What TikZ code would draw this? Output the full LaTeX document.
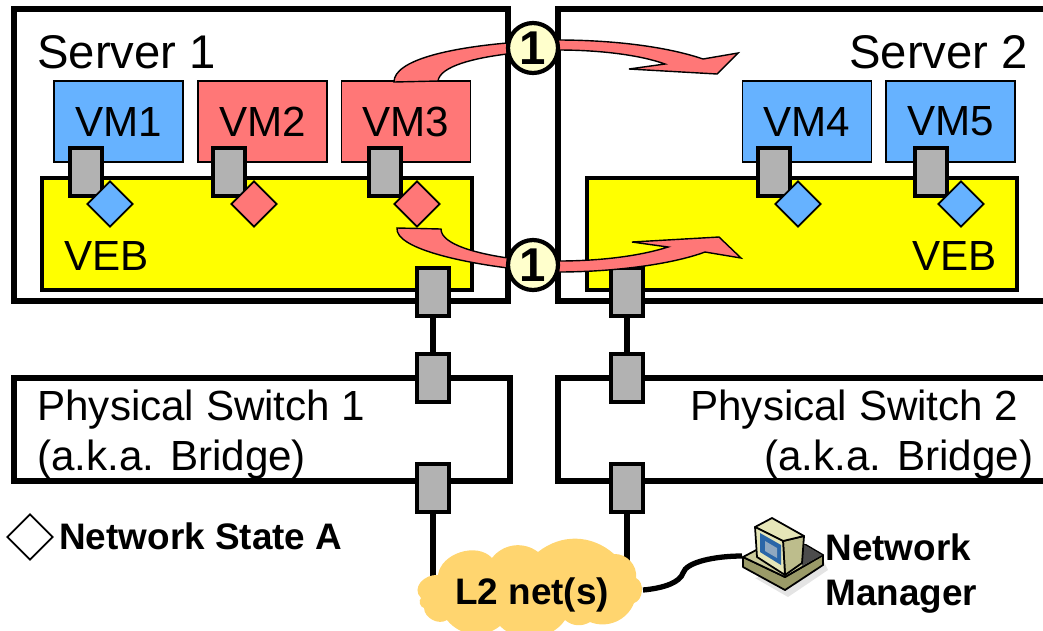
\documentclass[tikz,border=0pt]{standalone}
\usepackage{fontspec}
\setmainfont{Liberation Sans}
\usetikzlibrary{shapes.geometric}
\definecolor{vmblue}{HTML}{66B2FF}
\definecolor{vmred}{HTML}{FF7777}
\definecolor{vebyellow}{HTML}{FFFF00}
\definecolor{portgrey}{HTML}{B2B2B2}
\definecolor{cloudorange}{HTML}{FFD56F}
\definecolor{badgefill}{HTML}{FFFFCC}
\definecolor{pcfront}{HTML}{E6E6B8}
\definecolor{pcside}{HTML}{BDBD8C}
\definecolor{pcbase}{HTML}{CBCB9C}
\definecolor{pcedge}{HTML}{9A9A68}
\definecolor{pcscreen}{HTML}{2A66A8}
\definecolor{pcpicture}{HTML}{8FA8C0}
\definecolor{pcshadow}{HTML}{E4E4E4}
\tikzset{
  hostbox/.style={draw, line width=3.4pt},
  vebbox/.style={draw, line width=2.3pt, fill=vebyellow},
  vmbox/.style={draw, line width=1pt, minimum width=2.58cm, minimum height=1.62cm, font=\fontsize{24}{28}\selectfont, inner sep=0pt},
  portbox/.style={draw, line width=2.3pt, fill=portgrey, minimum width=0.64cm, minimum height=0.96cm, inner sep=0pt},
  statemark/.style={diamond, draw, line width=1pt, minimum width=0.92cm, minimum height=0.92cm, inner sep=0pt, aspect=1},
  badge/.style={circle, draw, line width=2.4pt, fill=badgefill, minimum size=1cm, inner sep=0pt, font=\fontsize{27}{30}\selectfont\bfseries},
  flow/.style={draw, line width=0.8pt, fill=vmred},
  wire/.style={line width=3pt},
  pcpart/.style={draw, line width=1pt, line join=round},
  bigtext/.style={anchor=base west, inner sep=0pt, font=\fontsize{26.9}{30}\selectfont},
  midtext/.style={anchor=base west, inner sep=0pt, font=\fontsize{24}{28}\selectfont},
  boldtext/.style={anchor=base west, inner sep=0pt, font=\fontsize{21}{24}\selectfont\bfseries}
}
\begin{document}
\begin{tikzpicture}[x=0.02cm,y=-0.02cm]
  \useasboundingbox (0,0) rectangle (1043,630);

  % Servers
  \draw[hostbox] (14,9) rectangle (508,301);
  \draw[hostbox] (558,9) rectangle (1060,301);
  \node[bigtext] (srv1) at (37,68) {Server 1};
  \node[bigtext] (srv2) at (849,68) {Server 2};

  % Bridges inside the servers
  \draw[vebbox] (42,178) rectangle (472,290);
  \draw[vebbox] (587,178) rectangle (1017,290);
  \node[midtext] (veb1) at (64,270) {VEB};
  \node[midtext] (veb2) at (912,270) {VEB};

  % Outside switches
  \draw[hostbox] (14,378) rectangle (510,481);
  \draw[hostbox] (558,378) rectangle (1060,481);
  \node[midtext] (sw1a) at (37,420) {Physical Switch 1};
  \node[midtext] (sw1b) at (37,470) {(a.k.a. Bridge)};
  \node[midtext] (sw2a) at (690,420) {Physical Switch 2};
  \node[midtext] (sw2b) at (764,470) {(a.k.a. Bridge)};

  % VMs
  \node[vmbox, fill=vmblue] (vm1) at (118.5,121.5) {VM1};
  \node[vmbox, fill=vmred] (vm2) at (262.5,121.5) {VM2};
  \node[vmbox, fill=vmred] (vm3) at (406,121.5) {VM3};
  \node[vmbox, fill=vmblue] (vm4) at (807,121.5) {VM4};
  \node[vmbox, fill=vmblue] (vm5) at (950.5,121.5) {VM5};

  % Uplink ports
  \node[portbox] (p6) at (433,292) {};
  \node[portbox] (p7) at (433,378) {};
  \node[portbox] (p8) at (433,488) {};
  \node[portbox] (p9) at (627,292) {};
  \node[portbox] (p10) at (627,378) {};
  \node[portbox] (p11) at (627,488) {};

  % Uplinks
  \coordinate (netl) at (433,585);
  \coordinate (netr) at (627,575);
  \draw[wire] (p6) -- (p7);
  \draw[wire] (p8) -- (netl);
  \draw[wire] (p9) -- (p10);
  \draw[wire] (p11) -- (netr);

  % Cloud
  \fill[cloudorange] (421,598) .. controls (411,588) and (424,574) .. (438,575)
    to[bend left=65] (492,558)
    to[bend left=45] (538,552) to[bend left=40] (614,554) to[bend left=50] (636,578)
    to[bend left=70] (634,603) to[bend left=45] (590,622) to[bend left=35] (565,620)
    to[bend left=50] (500,626) to[bend left=45] (447,620) to[bend left=60] (424,608)
    to[bend left=60] (421,598) -- cycle;
  \node[boldtext] (l2net) at (455,604) {L2 net(s)};

  % Ports
  \node[portbox] (p1) at (86,172) {};
  \node[portbox] (p2) at (229,172) {};
  \node[portbox] (p3) at (385,172) {};
  \node[portbox] (p4) at (774,172) {};
  \node[portbox] (p5) at (931,172) {};

  % State marks
  \node[statemark, fill=vmblue] (d1) at (110,204) {};
  \node[statemark, fill=vmred] (d2) at (254,204) {};
  \node[statemark, fill=vmred] (d3) at (417,204) {};
  \node[statemark, fill=vmblue] (d4) at (798,204) {};
  \node[statemark, fill=vmblue] (d5) at (961,204) {};
  \node[statemark, fill=white] (d6) at (30,537) {};
  \node[boldtext] (lgd) at (59,549) {Network State A};

  % Migration flows
  \draw[flow] (394,82) .. controls (394,60) and (450,48) .. (507,43) -- (507,54)
    .. controls (475,58) and (440,66) .. (438,81) -- cycle;
  \draw[flow] (558,40) .. controls (610,40) and (665,46) .. (703,59) -- (738,53) -- (717,74) -- (629,69) -- (665,64)
    .. controls (640,55) and (600,50) .. (558,50) -- cycle;
  \draw[flow] (397,228) -- (441,229) .. controls (441,245) and (480,254) .. (508,258) -- (508,268)
    .. controls (460,262) and (395,248) .. (397,228) -- cycle;
  \draw[flow] (558,261) .. controls (600,261) and (640,256) .. (668,247) -- (632,242) -- (719,237) -- (741,258) -- (705,252)
    .. controls (670,265) and (610,272) .. (558,272) -- cycle;
  \node[badge] (b1) at (533,48) {1};
  \node[badge] (b2) at (533,265) {1};

  % Manager
  \coordinate (pc) at (742,556);
  \coordinate (cl) at (643,590);
  \draw[wire] (cl) .. controls (665,588) and (680,582) .. (683,573)
    .. controls (686,562) and (715,556) .. (pc);
  \fill[pcshadow] (755,578) -- (788,597) -- (828,570) -- (823,560) -- cycle;
  \draw[pcpart, fill=pcedge] (743,557) -- (743,567) -- (785,590) -- (823,565) -- (823,555) -- (785,577) -- cycle;
  \draw[pcpart, fill=pcbase] (743,557) -- (762,547) -- (806,545) -- (823,555) -- (785,577) -- cycle;
  \fill[black!70] (803,544) -- (822,555) -- (802,566) -- cycle;
  \draw[pcpart, fill=pcside] (783,541) -- (804,536) -- (802,563) -- (785,575) -- cycle;
  \draw[pcpart, fill=pcfront] (755,527) -- (772,518) -- (804,536) -- (783,541) -- cycle;
  \draw[pcpart, fill=pcfront] (755,527) -- (783,541) -- (785,575) -- (757,557) -- cycle;
  \fill[pcscreen] (760,533) -- (781,545) -- (781,565) -- (760,552) -- cycle;
  \fill[pcpicture] (765,541) -- (777,548) -- (777,558) -- (765,551) -- cycle;
  \node[boldtext] (nm1) at (825,560) {Network};
  \node[boldtext] (nm2) at (825,605) {Manager};
\end{tikzpicture}
\end{document}
